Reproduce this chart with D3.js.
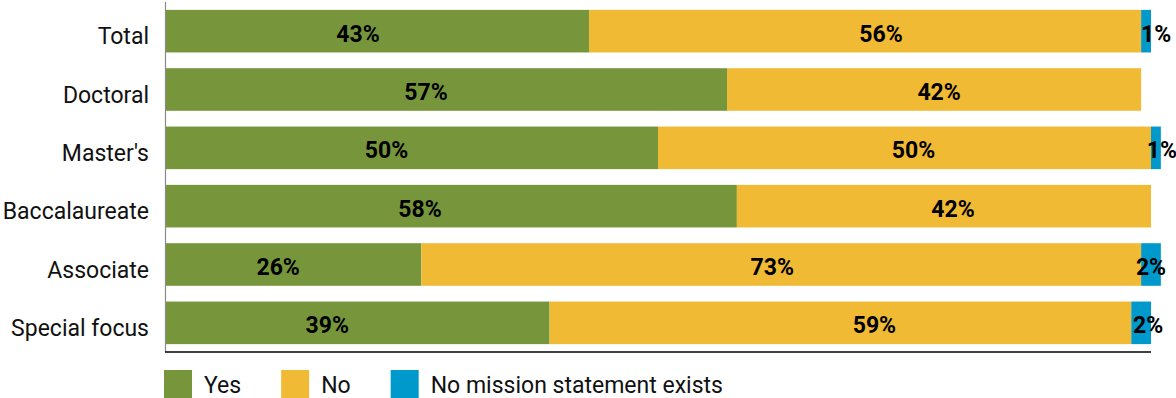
<!DOCTYPE html>
<html>
<head>
<meta charset="utf-8">
<script src="https://cdn.jsdelivr.net/npm/d3@7"></script>
<style>
  html, body { margin: 0; padding: 0; background: #fff; }
  svg { display: block; font-family: Roboto, "Noto Sans", Arial, sans-serif; }
</style>
</head>
<body>
<svg id="chart" width="1176" height="398"></svg>
<script>
// Share of institutions, by Carnegie class, whose mission statement mentions the topic
const categories = ["Total", "Doctoral", "Master's", "Baccalaureate", "Associate", "Special focus"];
const yesValues = [43, 57, 50, 58, 26, 39];
const noValues = [56, 42, 50, 42, 73, 59];
const noStatementValues = [1, 0, 1, 0, 2, 2];
const seriesNames = ["Yes", "No", "No mission statement exists"];

const colors = ["#77963c", "#f0ba34", "#0099cc"];

// small horizontal nudges (px) for the in-bar value labels, per series then row
const labelNudge = [
  [-19, -20, -25, -31, -15, -30],
  [16, 5, 9, 9, -9, 34],
  [10, 0, 6, 0, 0, 7]
];

const svg = d3.select("#chart");
const plotLeft = 165, plotRight = 1151, plotTop = 2, plotBottom = 352;

const rows = categories.map((c, i) => ({
  category: c,
  "Yes": yesValues[i],
  "No": noValues[i],
  "No mission statement exists": noStatementValues[i]
}));

const stacked = d3.stack().keys(seriesNames)(rows);

const x = d3.scaleLinear().domain([0, 100]).range([plotLeft, plotRight]);
const y = d3.scaleBand()
  .domain(categories)
  .range([plotTop, plotBottom])
  .paddingInner(0.27)
  .paddingOuter(0.135);

const color = d3.scaleOrdinal().domain(seriesNames).range(colors);

// bars
const layers = svg.append("g")
  .selectAll("g")
  .data(stacked)
  .join("g")
  .attr("fill", d => color(d.key));

layers.selectAll("rect")
  .data(d => d)
  .join("rect")
  .attr("x", d => x(d[0]))
  .attr("y", d => y(d.data.category))
  .attr("width", d => Math.max(0, x(d[1]) - x(d[0])))
  .attr("height", y.bandwidth());

// value labels
const labels = svg.append("g")
  .attr("font-size", 23)
  .attr("font-weight", 700)
  .attr("fill", "#000")
  .attr("text-anchor", "middle");

stacked.forEach((layer, si) => {
  layer.forEach((d, ri) => {
    const v = d[1] - d[0];
    if (v <= 0) return;
    labels.append("text")
      .attr("x", (x(d[0]) + x(d[1])) / 2 + labelNudge[si][ri])
      .attr("y", y(d.data.category) + y.bandwidth() / 2)
      .attr("dy", "0.45em")
      .text(v + "%");
  });
});

// category axis
const yAxis = d3.axisLeft(y).tickSize(0).tickPadding(16);
const gy = svg.append("g")
  .attr("transform", `translate(${plotLeft},0)`)
  .call(yAxis);
gy.select(".domain").remove();
gy.selectAll("text")
  .attr("font-size", 23)
  .attr("font-family", "Roboto, 'Noto Sans', Arial, sans-serif")
  .attr("fill", "#111")
  .attr("dy", "0.57em");

svg.append("line")
  .attr("x1", plotLeft + 0.5).attr("x2", plotLeft + 0.5)
  .attr("y1", plotTop).attr("y2", plotBottom)
  .attr("stroke", "#8a8a8a")
  .attr("stroke-width", 1.2);

svg.append("line")
  .attr("x1", plotLeft).attr("x2", plotRight)
  .attr("y1", plotBottom).attr("y2", plotBottom)
  .attr("stroke", "#000")
  .attr("stroke-width", 1.5);

// legend
const legend = svg.append("g").attr("transform", "translate(164,370)");
let lx = 0;
seriesNames.forEach((name, i) => {
  const item = legend.append("g").attr("transform", `translate(${lx},0)`);
  item.append("rect")
    .attr("width", 28).attr("height", 28)
    .attr("fill", colors[i]);
  const t = item.append("text")
    .attr("x", 40)
    .attr("y", 14)
    .attr("dy", "0.37em")
    .attr("font-size", 23)
    .attr("fill", "#111")
    .text(name);
  lx += 40 + t.node().getComputedTextLength() + 40;
});
</script>
</body>
</html>
